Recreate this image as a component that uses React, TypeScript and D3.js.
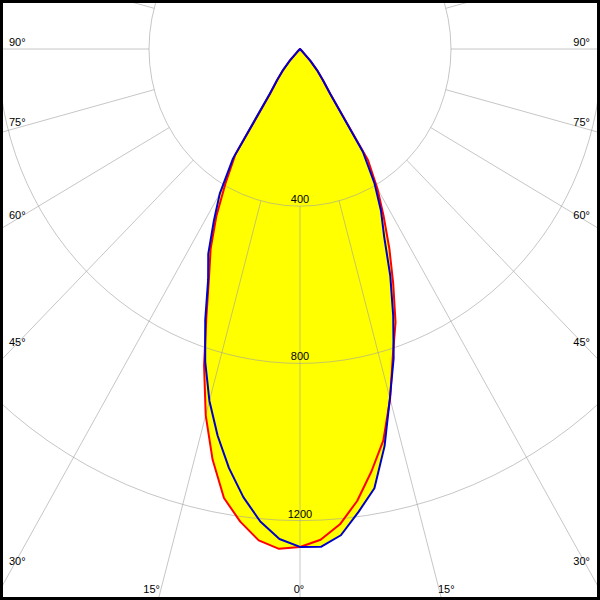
import React from "react";
import * as d3 from "d3";

// gamma angles (degrees) at which intensities are read
const ANGLES = [0, 2.5, 5, 7.5, 10, 12.5, 15, 17.5, 20, 22.5, 25, 27.5, 30, 32.5, 35, 37.5, 40, 42.5, 45, 47.5];
// red curve (left half / right half), cd
const RED_LEFT = [1267, 1273, 1255, 1213, 1160, 1070, 965, 845, 725, 630, 560, 480, 395, 320, 135, 98, 68, 38, 10, 0];
const RED_RIGHT = [1267, 1250, 1214, 1160, 1091, 1020, 922, 818, 740, 645, 560, 480, 410, 335, 140, 100, 70, 40, 10, 0];
// blue curve (left half / right half), cd
const BLUE_LEFT = [1267, 1248, 1207, 1150, 1083, 1008, 927, 835, 734, 636, 575, 495, 425, 330, 140, 100, 70, 40, 10, 0];
const BLUE_RIGHT = [1267, 1268, 1242, 1188, 1135, 1035, 920, 825, 722, 625, 528, 465, 395, 310, 140, 100, 70, 40, 10, 0];

const RINGS = [400, 800, 1200];
const RADIALS = [-105, -90, -75, -60, -45, -30, -15, 0, 15, 30, 45, 60, 75, 90, 105];
const SIDE_LABELS = [90, 75, 60, 45, 30];
const BOTTOM_LABELS = [-15, 0, 15];

const W = 600;
const H = 600;
const CX = 300;
const CY = 49;

const sx = d3.scaleLinear().domain([-800, 800]).range([CX - 302, CX + 302]);
const sy = d3.scaleLinear().domain([0, 1200]).range([CY, CY + 471.6]);

const rad = (a: number) => (a * Math.PI) / 180;
const pt = (g: number, I: number): [number, number] => [sx(I * Math.sin(rad(g))), sy(I * Math.cos(rad(g)))];

function curvePoints(left: number[], right: number[]): [number, number][] {
  const pts: [number, number][] = [];
  for (let i = ANGLES.length - 1; i >= 0; i--) pts.push(pt(-ANGLES[i], left[i]));
  for (let i = 1; i < ANGLES.length; i++) pts.push(pt(ANGLES[i], right[i]));
  return pts;
}

const line = d3.line<[number, number]>().curve(d3.curveLinearClosed);

export default function App() {
  const redPts = curvePoints(RED_LEFT, RED_RIGHT);
  const bluePts = curvePoints(BLUE_LEFT, BLUE_RIGHT);
  const font = "'Liberation Sans', Arial, sans-serif";
  const ratio = (sy(1) - sy(0)) / (sx(1) - sx(0));
  const lineYAtX = (a: number, x: number) => CY + Math.abs(CX - x) / Math.tan(rad(a)) * ratio;
  const lineXAtY = (a: number, y: number) => CX + ((y - CY) * Math.tan(rad(a))) / ratio;

  return (
    <svg width={W} height={H} style={{ position: "absolute", left: 0, top: 0, background: "#fff" }} fontFamily={font}>
      <rect x={0} y={0} width={W} height={H} fill="#fff" />
      <g>
        <path d={line(redPts) || ""} fill="#ffff00" stroke="none" />
        <path d={line(bluePts) || ""} fill="#ffff00" stroke="none" />
      </g>
      <g stroke="#a0a0a0" strokeOpacity={0.6} fill="none" strokeWidth={1}>
        {RINGS.map((r) => (
          <ellipse key={r} cx={CX} cy={CY} rx={sx(r) - CX} ry={sy(r) - CY} />
        ))}
        {RADIALS.map((a) => {
          const [x1, y1] = pt(a, RINGS[0]);
          const [x2, y2] = pt(a, 4000);
          return <line key={a} x1={x1} y1={y1} x2={x2} y2={y2} />;
        })}
      </g>
      <path d={line(redPts) || ""} fill="none" stroke="#ff0000" strokeWidth={2} strokeLinejoin="round" />
      <path d={line(bluePts) || ""} fill="none" stroke="#0000c8" strokeWidth={2} strokeLinejoin="round" />
      <g fontSize={11} fill="#000">
        {RINGS.map((r) => (
          <text key={r} x={CX} y={sy(r) - 3} textAnchor="middle">
            {r}
          </text>
        ))}
        {SIDE_LABELS.map((a) => (
          <g key={a}>
            <text x={9} y={lineYAtX(a, 12) - 3} textAnchor="start">{`${a}°`}</text>
            <text x={590} y={lineYAtX(a, W - 12) - 3} textAnchor="end">{`${a}°`}</text>
          </g>
        ))}
        {BOTTOM_LABELS.map((a) => (
          <text
            key={a}
            x={a === 0 ? CX - 1 : a < 0 ? lineXAtY(a, 593) : lineXAtY(a, 593) - 2}
            y={593}
            textAnchor={a === 0 ? "middle" : a < 0 ? "end" : "start"}
          >{`${Math.abs(a)}°`}</text>
        ))}
      </g>
      <rect x={1.5} y={1.5} width={W - 3} height={H - 3} fill="none" stroke="#000" strokeWidth={3} />
    </svg>
  );
}
